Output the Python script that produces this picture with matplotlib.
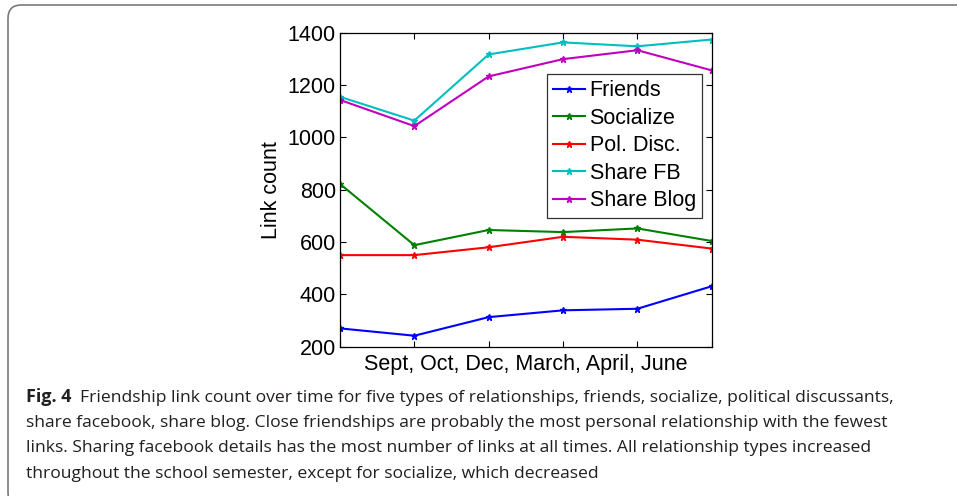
import matplotlib
matplotlib.use("Agg")
import matplotlib.pyplot as plt
from matplotlib.patches import FancyBboxPatch

# Data: link counts per survey wave
months = ["Sept", "Oct", "Dec", "March", "April", "June"]
friends = [270, 242, 313, 339, 345, 431]
socialize = [822, 588, 646, 638, 652, 604]
pol_disc = [550, 550, 580, 620, 609, 575]
share_fb = [1155, 1064, 1317, 1363, 1348, 1374]
share_blog = [1143, 1043, 1233, 1299, 1333, 1256]

series_names = ["Friends", "Socialize", "Pol. Disc.", "Share FB", "Share Blog"]
series_values = [friends, socialize, pol_disc, share_fb, share_blog]
series_colors = ["#0000ff", "#008000", "#ff0000", "#00bfbf", "#bf00bf"]

y_ticks = [200, 400, 600, 800, 1000, 1200, 1400]

caption_lines = [
    "Friendship link count over time for five types of relationships, friends, socialize, political discussants,",
    "share facebook, share blog. Close friendships are probably the most personal relationship with the fewest",
    "links. Sharing facebook details has the most number of links at all times. All relationship types increased",
    "throughout the school semester, except for socialize, which decreased",
]

W, H = 957, 496
fig = plt.figure(figsize=(W / 100, H / 100), dpi=100)
fig.patch.set_facecolor("white")

# Rounded frame around the figure panel
frame = FancyBboxPatch((8 / W, (H - 506) / H), (980 - 8) / W, (506 - 5) / H,
                       boxstyle="round,pad=0,rounding_size=0.014",
                       transform=fig.transFigure, fill=False,
                       edgecolor="#7a7a7a", linewidth=1.2, mutation_aspect=W / H,
                       clip_on=False)
fig.patches.append(frame)

chart_font = ["Liberation Sans", "DejaVu Sans"]
fs = 15.5

ax_l, ax_r, ax_t, ax_b = 340.0, 711.7, 32.7, 346.7
ax = fig.add_axes([ax_l / W, 1 - ax_b / H, (ax_r - ax_l) / W, (ax_b - ax_t) / H])
x = list(range(len(months)))
for name, vals, col in zip(series_names, series_values, series_colors):
    ax.plot(x, vals, color=col, linewidth=1.5, marker="*", markersize=4.5,
            markeredgewidth=1.0, label=name)

ax.set_xlim(0, len(months) - 1)
ax.set_ylim(200, 1400)
ax.set_xticks(x)
ax.set_xticklabels([])
ax.set_yticks(y_ticks)
ax.set_yticklabels([str(v) for v in y_ticks], fontfamily=chart_font, fontsize=fs)
ax.tick_params(direction="in", top=True, right=True, length=4, width=0.8, pad=3)
ax.set_xlabel(", ".join(months), fontfamily=chart_font, fontsize=fs, labelpad=2)
ax.set_ylabel("Link count", fontfamily=chart_font, fontsize=fs, labelpad=4)
for s in ax.spines.values():
    s.set_linewidth(0.9)

leg = ax.legend(loc="upper left",
                bbox_to_anchor=((546.5 - ax_l) / (ax_r - ax_l), (ax_b - 74) / (ax_b - ax_t)),
                prop={"family": chart_font, "size": fs}, frameon=True, fancybox=False,
                handlelength=1.5, handletextpad=0.2, borderpad=0.3, labelspacing=0.3,
                borderaxespad=0)
leg.get_frame().set_edgecolor("black")
leg.get_frame().set_linewidth(0.9)

# Caption below the chart
cap_font = ["Open Sans", "DejaVu Sans"]
cap_fs = 12.6
cap_color = "#231f20"
baselines = [401.5, 427.0, 452.5, 478.0]
fig.canvas.draw()
renderer = fig.canvas.get_renderer()
bold = fig.text(26 / W, 1 - baselines[0] / H, "Fig. 4", fontfamily=cap_font, fontsize=cap_fs + 0.4,
                fontweight="bold", va="baseline", ha="left", color=cap_color)
bb = bold.get_window_extent(renderer)
fig.text((bb.x1 + 9) / W, 1 - baselines[0] / H, caption_lines[0], fontfamily=cap_font,
         fontsize=cap_fs, va="baseline", ha="left", color=cap_color)
for line, yb in zip(caption_lines[1:], baselines[1:]):
    fig.text(26 / W, 1 - yb / H, line, fontfamily=cap_font, fontsize=cap_fs,
             va="baseline", ha="left", color=cap_color)

fig.savefig("out.png", dpi=100)
